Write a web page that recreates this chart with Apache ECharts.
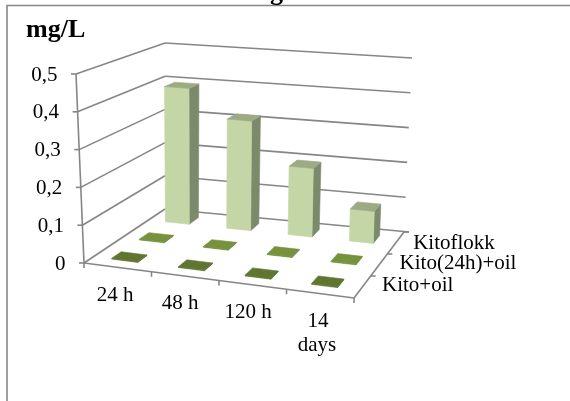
<!DOCTYPE html>
<html><head><meta charset="utf-8">
<style>html,body{margin:0;padding:0;background:#fff}#c{width:570px;height:401px}</style>
<script src="https://cdn.jsdelivr.net/npm/echarts@6/dist/echarts.min.js"></script>
</head><body><div id="c"></div>
<script>
var timeLabels = ['24 h','48 h','120 h','14\ndays'];
var seriesNames = ['Kitoflokk','Kito(24h)+oil','Kito+oil'];
var kitoflokk = [0.395,0.315,0.195,0.09];
var kito24Oil = [0.002,0.002,0.002,0.002];
var kitoOil = [0.002,0.002,0.002,0.002];
var valueTicks = [0,0.1,0.2,0.3,0.4,0.5];
var tickLabels = ['0','0,1','0,2','0,3','0,4','0,5'];

// projected box corners (floor and top of the 3D plot box)
var floorQ = [[84,263],[354,298],[404,232],[165,209]];
var topQ = [[76,74],[352,103],[412,58],[165,43]];
function bil(q,u,d){
  var a=[q[0][0]+(q[3][0]-q[0][0])*d,q[0][1]+(q[3][1]-q[0][1])*d];
  var b=[q[1][0]+(q[2][0]-q[1][0])*d,q[1][1]+(q[2][1]-q[1][1])*d];
  return [a[0]+(b[0]-a[0])*u,a[1]+(b[1]-a[1])*u];
}
function P(u,d,t){var a=bil(floorQ,u,d),b=bil(topQ,u,d);return [a[0]+(b[0]-a[0])*t,a[1]+(b[1]-a[1])*t];}

var W=0.39,D=0.36,uShift=-0.007; // bar footprint as share of a cell
var rowDepth=[0.855,0.525,0.175];
var C={wall:'#868686',text:'#000'};
function poly(pts,fill){return {type:'polygon',shape:{points:pts},style:{fill:fill,stroke:fill,lineWidth:0.6}};}
function barRenderer(row,front,side,top){
  return function(params,api){
    var cat=api.value(0), val=api.value(1);
    // hidden cartesian grid turns value and category into unit fractions
    var o=api.coord([cat,0]), hi=api.coord([cat,0.5]), sz=api.size([1,0]);
    var g=params.coordSys;
    var u=(o[0]-g.x)/g.width+uShift, t=(o[1]-api.coord([cat,val])[1])/(o[1]-hi[1]);
    var cw=sz[0]/g.width, dc=rowDepth[row];
    var u0=u-cw*W/2,u1=u+cw*W/2,d0=dc-D/6,d1=dc+D/6;
    var fl=P(u0,d0,t),fr=P(u1,d0,t),bl=P(u0,d1,t),br=P(u1,d1,t);
    var fl0=P(u0,d0,0),fr0=P(u1,d0,0),br0=P(u1,d1,0);
    return {type:'group',children:[
      poly([fr,br,br0,fr0],side),
      poly([fl,fr,fr0,fl0],front),
      poly([fl,fr,br,bl],top)
    ]};
  };
}
function frameRender(params,api){
  var ch=[];
  function ln(a,b,w){ch.push({type:'line',shape:{x1:a[0],y1:a[1],x2:b[0],y2:b[1]},style:{stroke:C.wall,lineWidth:w||1.6}});}
  function tx(s,x,y,al,sz,bold){ch.push({type:'text',x:x,y:y,style:{text:s,textAlign:al,textVerticalAlign:'middle',fill:C.text,font:(bold?'bold ':'')+sz+'px "Liberation Serif"'}});}
  var o=api.coord([0,0])[1], hi=api.coord([0,0.5])[1];
  valueTicks.forEach(function(v,i){
    var t=(o-api.coord([0,v])[1])/(o-hi);
    var a=P(0,0,t),b=P(0,1,t),c=P(1,1,t);
    ln(a,b);ln(b,[c[0]+(i==0?5:0),c[1]]);
    ln([a[0]-5,a[1]],a);
    tx(tickLabels[i],a[0]-18.5,a[1]+1,'right',21);
  });
  ln(P(0,0,0),P(0,0,1));
  ln(P(0,0,0),P(1,0,0));
  ln(P(1,0,0),P(1,1,0));
  timeLabels.forEach(function(s,i){
    var p=P(i/4,0,0);ln(p,[p[0],p[1]+5]);
  });
  var q=P(1,0,0);ln(q,[q[0],q[1]+5]);
  for(var j=1;j<=3;j++){var r=P(1,j/3,0);ln(r,[r[0]+5,r[1]]);}
  tx('24 h',115,295,'center',21);
  tx('48 h',180,303,'center',21);
  tx('120 h',248,312,'center',21);
  tx('14',318,321,'center',21);
  tx('days',317,345,'center',21);
  tx(seriesNames[0],454,243,'center',21);
  tx(seriesNames[1],458,263,'center',21);
  tx(seriesNames[2],382,285,'left',21);
  tx('mg/L',26,30,'left',26,true);
  return {type:'group',children:ch};
}
var chart=echarts.init(document.getElementById('c'),null,{renderer:'canvas'});
var cats=[0,1,2,3];
function rows(a){return cats.map(function(i){return [i,a[i]];});}
chart.setOption({
  animation:false,
  backgroundColor:'#fff',
  grid:{left:100,right:100,top:100,bottom:100},
  xAxis:{type:'category',data:timeLabels,show:false},
  yAxis:{type:'value',min:0,max:0.5,interval:0.1,show:false},
  graphic:[
    {type:'rect',z:0,shape:{x:7,y:5.5,width:600,height:500},style:{fill:'none',stroke:'#868686',lineWidth:1.6}},
    {type:'text',z:10,x:283,y:-7,style:{text:'g',textAlign:'right',textVerticalAlign:'middle',fill:'#000',font:'bold 26px "Liberation Serif"'}}
  ],
  series:[
    {type:'custom',coordinateSystem:'cartesian2d',data:[[0,0]],z:1,renderItem:frameRender,silent:true},
    {type:'custom',name:seriesNames[0],z:2,encode:{x:0,y:1},data:rows(kitoflokk),renderItem:barRenderer(0,'#C5D6A6','#7C8A6C','#9DAB85')},
    {type:'custom',name:seriesNames[1],z:3,encode:{x:0,y:1},data:rows(kito24Oil),renderItem:barRenderer(1,'#76923C','#5E7530','#76923C')},
    {type:'custom',name:seriesNames[2],z:4,encode:{x:0,y:1},data:rows(kitoOil),renderItem:barRenderer(2,'#5F7530','#4C5E26','#5F7530')}
  ]
});
</script></body></html>
